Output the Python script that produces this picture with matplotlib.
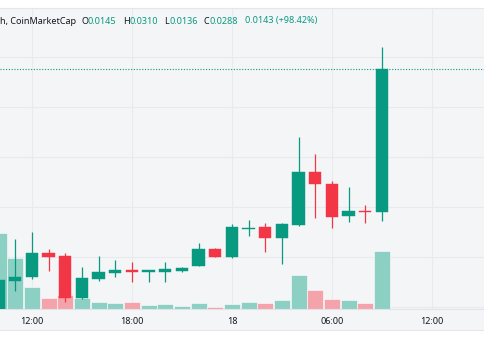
import matplotlib
matplotlib.use("Agg")
import matplotlib.pyplot as plt
import matplotlib.transforms as mtransforms
from matplotlib.patches import Rectangle

# ---------------------------------------------------------------------------
# Data: hourly candles, hours relative to 00:00 of the 18th
# ---------------------------------------------------------------------------
hours = list(range(-14, 10))
opens = [0.0045, 0.0076, 0.0080, 0.0104, 0.0101, 0.0059, 0.0078, 0.0084,
         0.0087, 0.0085, 0.0085, 0.0086, 0.0091, 0.0108, 0.0100, 0.0128,
         0.0130, 0.0119, 0.0132, 0.0185, 0.0173, 0.0141, 0.0146, 0.0145]
highs = [0.0079, 0.0118, 0.0125, 0.0108, 0.0104, 0.0090, 0.0101, 0.0097,
         0.0095, 0.0087, 0.0095, 0.0090, 0.0114, 0.0109, 0.0133, 0.0137,
         0.0134, 0.0134, 0.0220, 0.0203, 0.0176, 0.0170, 0.0152, 0.0310]
lows = [0.0044, 0.0066, 0.0078, 0.0086, 0.0055, 0.0058, 0.0076, 0.0080,
        0.0075, 0.0075, 0.0075, 0.0085, 0.0091, 0.0100, 0.0099, 0.0121,
        0.0105, 0.0093, 0.0131, 0.0139, 0.0129, 0.0135, 0.0134, 0.0136]
closes = [0.0077, 0.0080, 0.0104, 0.0100, 0.0059, 0.0079, 0.0085, 0.0087,
          0.0085, 0.0087, 0.0088, 0.0089, 0.0108, 0.0100, 0.0130, 0.0129,
          0.0119, 0.0133, 0.0185, 0.0173, 0.0140, 0.0146, 0.0145, 0.0288]
volumes = [757, 507, 217, 107, 140, 107, 73, 57, 67, 40, 53, 30,
           63, 23, 50, 70, 57, 90, 340, 190, 100, 90, 57, 580]

tick_hours = [-12, -6, 0, 6, 12]
tick_labels = ["12:00", "18:00", "18", "06:00", "12:00"]
price_grid = [0.005, 0.010, 0.015, 0.020, 0.025, 0.030]

legend_parts = [("h, CoinMarketCap", "text"), ("O", "text"), ("0.0145", "val"),
                ("H", "text"), ("0.0310", "val"), ("L", "text"), ("0.0136", "val"),
                ("C", "text"), ("0.0288", "val"), ("0.0143 (+98.42%)", "val")]
legend_x = [0, 82, 88, 123, 130, 164, 170, 204, 210, 245]

# ---------------------------------------------------------------------------
# Style
# ---------------------------------------------------------------------------
UP = "#089981"
DOWN = "#F23645"
UP_VOL = "#8CCFC3"
DOWN_VOL = "#F5A3AA"
BG = "#F4F5F7"
GRID = "#E8EAEE"
TEXT = "#131722"
FONT = "Noto Sans"

W, H = 485, 360
fig = plt.figure(figsize=(W / 100, H / 100), dpi=100, facecolor="white")

# grey chart panel (pane + time axis strip)
fig.patches.append(Rectangle((0, (H - 330) / H), 1, 322 / H, transform=fig.transFigure,
                             facecolor=BG, edgecolor="none", zorder=-2))
fig.add_artist(plt.Line2D([0, 1], [(H - 8) / H] * 2, color="#E4E6EA", lw=0.8))
fig.add_artist(plt.Line2D([0, 1], [(H - 330) / H] * 2, color="#E4E6EA", lw=0.8))

ax = fig.add_axes([0, (H - 309) / H, 1, 301 / H])
ax.set_facecolor(BG)
ax.set_xlim(-13.92, 15.18)
ax.set_ylim(0.0048, 0.0349)
ax.set_autoscale_on(False)

# volume bars share x with price, y scaled to the pane height
VOL_TOP = 3010
vol_trans = mtransforms.blended_transform_factory(
    ax.transData, mtransforms.Affine2D().scale(1, 1 / VOL_TOP) + ax.transAxes)

for t, o, h, l, c, v in zip(hours, opens, highs, lows, closes, volumes):
    up = c >= o
    col = UP if up else DOWN
    ax.add_patch(Rectangle((t - 0.48, 0), 0.96, v, transform=vol_trans,
                           facecolor=UP_VOL if up else DOWN_VOL,
                           edgecolor="#FFFFFF", linewidth=0.4, alpha=1, zorder=1))
    ax.vlines(t, l, h, color=col, linewidth=0.9, zorder=2)
    bottom = min(o, c)
    height = max(abs(c - o), 0.00008)
    ax.bar(t, height, bottom=bottom, width=0.74, color=col,
           edgecolor=col, linewidth=0.3, zorder=3)

# last price line
ax.axhline(closes[-1], color=UP, linestyle=(0, (1, 1.5)), linewidth=0.8, zorder=2)

# grid & ticks
ax.set_xticks(tick_hours)
ax.set_xticklabels(tick_labels)
ax.set_yticks(price_grid)
ax.set_yticklabels([])
ax.grid(True, color=GRID, linewidth=0.8)
ax.set_axisbelow(True)
ax.tick_params(axis="both", length=0)
ax.tick_params(axis="x", pad=6, labelsize=6.5, labelcolor=TEXT)
for lab in ax.get_xticklabels():
    lab.set_fontfamily(FONT)
ax.get_xticklabels()[2].set_fontweight("bold")
for side in ("top", "left", "right"):
    ax.spines[side].set_visible(False)
ax.spines["bottom"].set_color("#E0E3EB")
ax.spines["bottom"].set_linewidth(0.8)

# vertical grid lines continue through the legend strip
for t in tick_hours:
    ax.axvline(t, ymin=1, ymax=1.0, color=GRID)

# legend text
for (txt, kind), x in zip(legend_parts, legend_x):
    fig.text(x / W, (H - 21) / H, txt, ha="left", va="center",
             fontsize=6.5, family=FONT, color=UP if kind == "val" else TEXT)

fig.savefig("out.png", dpi=100, facecolor="white")
